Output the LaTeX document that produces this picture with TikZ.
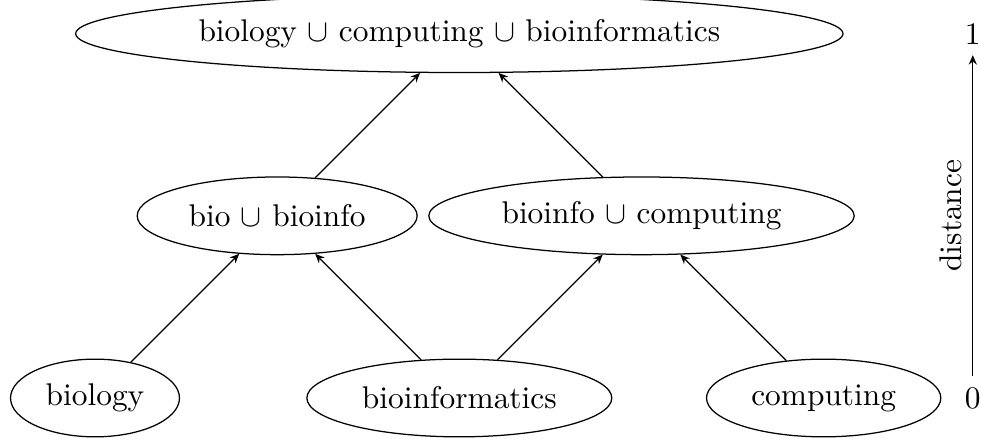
\documentclass[tikz,border=0pt]{standalone}
\usepackage{amsmath}
\usetikzlibrary{shapes.geometric, arrows.meta}
\tikzstyle{arrow} = [-{Stealth[length=3pt, width=2.6pt, inset=1pt]}]
\tikzstyle{set} = [ellipse, minimum height=0.87cm, text centered, draw=black]
\begin{document}
\begin{tikzpicture}[node distance=2.04cm]
\useasboundingbox (-1.064,-0.459) rectangle (9.922,4.457);
% Placement of nodes
\node (biology) [set] {biology};
\node (bioinformatics) [set, right of=biology, xshift=2.04cm] {bioinformatics};
\node (computing) [set, right of=bioinformatics, xshift=2.04cm] {computing};

\node (bioBioinfo) [set, above of=biology, xshift=2.04cm] {bio $\cup$ bioinfo};
\node (bioinfoComp) [set, above of=computing, xshift=-2.04cm] {bioinfo $\cup$ computing};

\node (all) [set, above of=bioBioinfo, xshift=2.04cm] {biology $\cup$ computing $\cup$ bioinformatics};

% distance scale
\node (zero) [right of=computing, xshift=-0.37cm] {0};
\node (one) [above of=zero, yshift=2.04cm] {1};

% Placement of edges
\draw [arrow] (biology) -- (bioBioinfo);
\draw [arrow] (bioinformatics) -- (bioBioinfo);
\draw [arrow] (bioinformatics) -- (bioinfoComp);
\draw [arrow] (computing) -- (bioinfoComp);

\draw [arrow] (bioBioinfo) -- (all);
\draw [arrow] (bioinfoComp) -- (all);

\draw [arrow] (zero) -- node[anchor=south, rotate=90] {distance} (one);

\end{tikzpicture}
\end{document}
